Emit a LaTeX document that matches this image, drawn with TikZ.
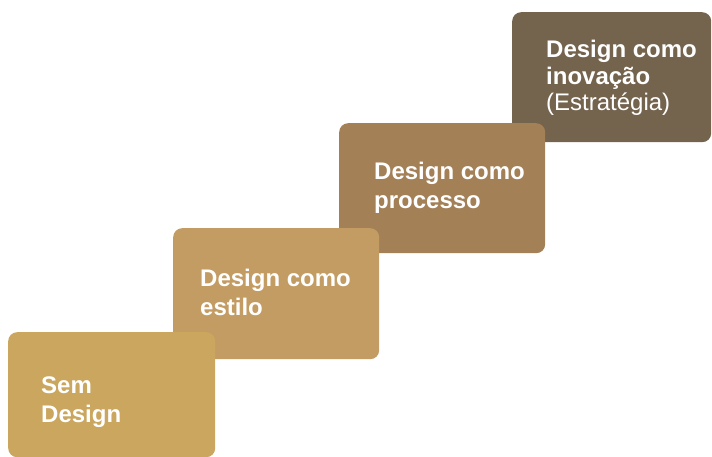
\documentclass[tikz,border=0pt]{standalone}
\usepackage{fontspec}
\setmainfont{Liberation Sans}
\definecolor{cA}{RGB}{202,166,94}
\definecolor{cB}{RGB}{195,156,99}
\definecolor{cC}{RGB}{164,128,87}
\definecolor{cD}{RGB}{116,99,77}
\begin{document}
\begin{tikzpicture}[x=1bp,y=-1bp,
  stepbox/.style={anchor=north west, inner sep=0, rounded corners=9bp, draw=none},
  boxtext/.style={anchor=north west, inner sep=0, text=white, align=left,
    font=\fontsize{24bp}{28.5bp}\selectfont}]
\useasboundingbox (0,0) rectangle (712,457);
\node[stepbox, fill=cD, minimum width=199bp, minimum height=130bp] (b4) at (512,12) {};
\node[stepbox, fill=cC, minimum width=206bp, minimum height=130bp] (b3) at (339,123) {};
\node[stepbox, fill=cB, minimum width=206bp, minimum height=131bp] (b2) at (173,228) {};
\node[stepbox, fill=cA, minimum width=207bp, minimum height=125bp] (b1) at (8,332) {};
\node[boxtext] (t1) at (41,377) {\bfseries Sem\\\bfseries Design};
\node[boxtext] (t2) at (200,269) {\bfseries Design como\\\bfseries estilo};
\node[boxtext] (t3) at (374,162) {\bfseries Design como\\\bfseries processo};
\node[boxtext, font=\fontsize{24bp}{26.5bp}\selectfont] (t4) at (546,40) {\bfseries Design como\\\bfseries inovação\\(Estratégia)};
\end{tikzpicture}
\end{document}
